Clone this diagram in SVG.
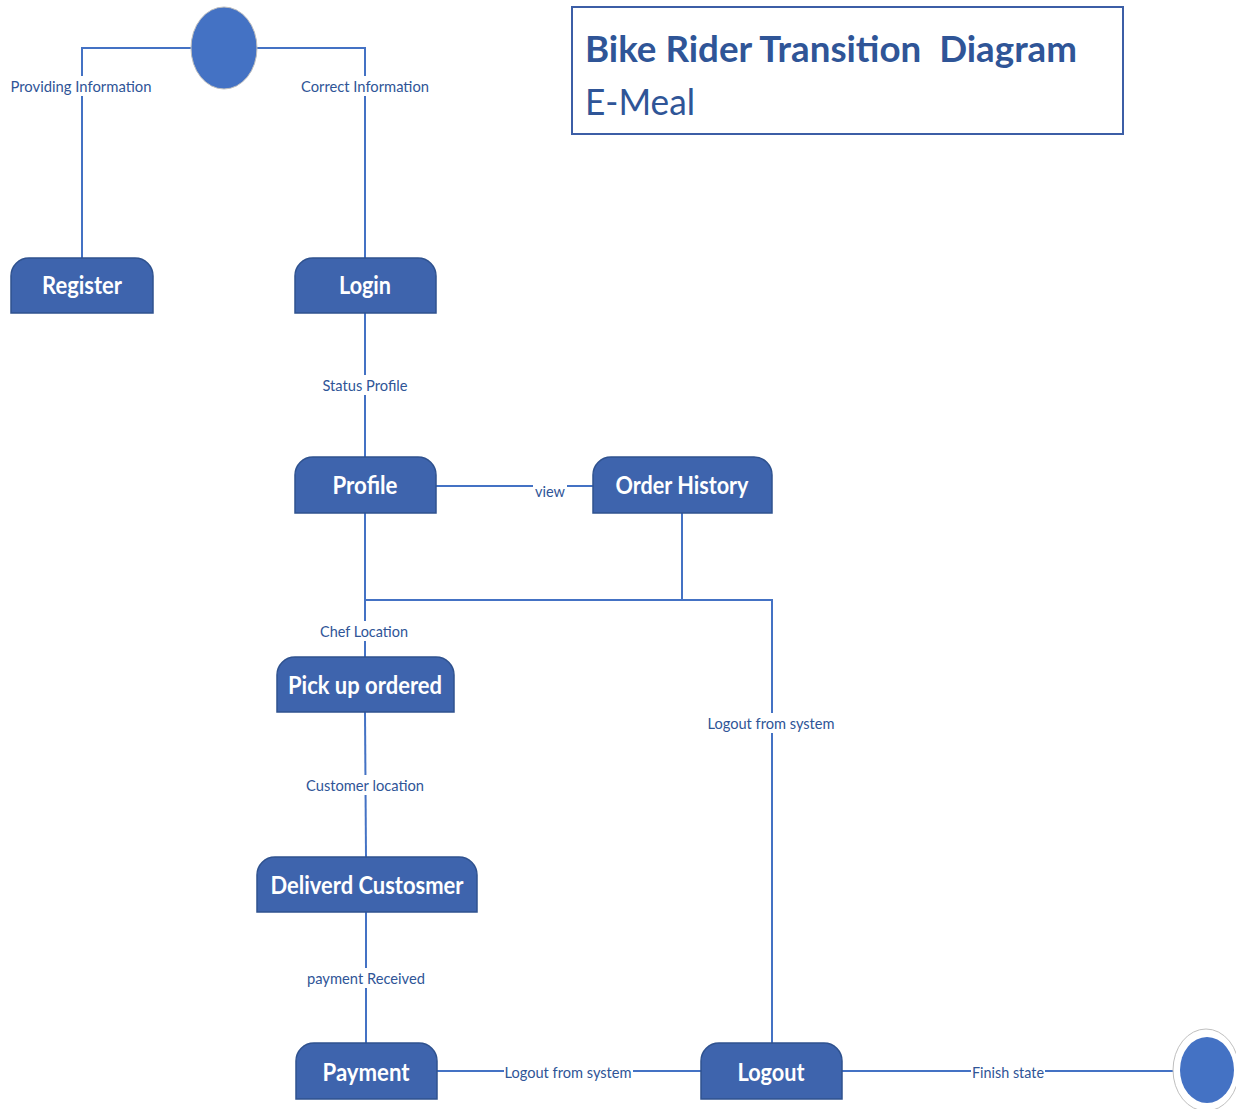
<svg xmlns="http://www.w3.org/2000/svg" width="1236" height="1109" viewBox="0 0 1236 1109">
  <style>
    .wire { fill: none; stroke: #4472c4; stroke-width: 2; }
    .gap { fill: #ffffff; }
    .lbl { font-family: Lato, "Liberation Sans", sans-serif; font-size: 15px; fill: #2f5597; text-anchor: middle; }
    .state { fill: #3e64ad; stroke: #2f528f; stroke-width: 1.5; }
    .name { font-family: Lato, "Liberation Sans", sans-serif; font-weight: bold; font-size: 25px; fill: #ffffff; text-anchor: middle; }
    .dot { fill: #4472c4; stroke: #bfbfbf; stroke-width: 1; }
  </style>

  <!-- title box -->
  <g id="title">
    <rect x="572" y="7" width="551" height="127" fill="#ffffff" stroke="#3c5ea6" stroke-width="2"/>
    <text x="585" y="62" font-family="Lato, 'Liberation Sans', sans-serif" font-weight="bold" font-size="37" fill="#2f5597" textLength="492" lengthAdjust="spacingAndGlyphs">Bike Rider Transition&#160; Diagram</text>
    <text x="585" y="115" font-family="Lato, 'Liberation Sans', sans-serif" font-size="37" fill="#2f5597" textLength="110" lengthAdjust="spacingAndGlyphs">E-Meal</text>
  </g>

  <!-- transitions -->
  <g id="connectors">
    <polyline class="wire" points="191,48 82,48 82,258"/>
    <polyline class="wire" points="257,48 365,48 365,258"/>
    <line class="wire" x1="365" y1="313" x2="365" y2="457"/>
    <line class="wire" x1="436" y1="486" x2="593" y2="486"/>
    <line class="wire" x1="365" y1="513" x2="365" y2="657"/>
    <line class="wire" x1="682" y1="513" x2="682" y2="600"/>
    <polyline class="wire" points="365,600 772,600 772,1043"/>
    <line class="wire" x1="365" y1="712" x2="366" y2="857"/>
    <line class="wire" x1="366" y1="912" x2="366" y2="1043"/>
    <line class="wire" x1="437" y1="1071" x2="701" y2="1071"/>
    <line class="wire" x1="842" y1="1071" x2="1180" y2="1071"/>

    <!-- blank breaks in the lines behind each label -->
    <rect class="gap" x="9" y="76" width="145" height="20"/>
    <rect class="gap" x="299" y="76" width="132" height="20"/>
    <rect class="gap" x="320" y="375" width="89" height="20"/>
    <rect class="gap" x="533" y="480" width="34" height="20"/>
    <rect class="gap" x="318" y="621" width="92" height="20"/>
    <rect class="gap" x="706" y="713" width="131" height="20"/>
    <rect class="gap" x="304" y="775" width="122" height="20"/>
    <rect class="gap" x="305" y="968" width="122" height="20"/>
    <rect class="gap" x="504" y="1062" width="129" height="20"/>
    <rect class="gap" x="971" y="1062" width="74" height="20"/>

    <text class="lbl" x="81" y="92" textLength="141" lengthAdjust="spacingAndGlyphs">Providing Information</text>
    <text class="lbl" x="365" y="92" textLength="128" lengthAdjust="spacingAndGlyphs">Correct Information</text>
    <text class="lbl" x="365" y="391" textLength="85" lengthAdjust="spacingAndGlyphs">Status Profile</text>
    <text class="lbl" x="550" y="497" textLength="30" lengthAdjust="spacingAndGlyphs">view</text>
    <text class="lbl" x="364" y="637" textLength="88" lengthAdjust="spacingAndGlyphs">Chef Location</text>
    <text class="lbl" x="771" y="729" textLength="127" lengthAdjust="spacingAndGlyphs">Logout from system</text>
    <text class="lbl" x="365" y="791" textLength="118" lengthAdjust="spacingAndGlyphs">Customer location</text>
    <text class="lbl" x="366" y="984" textLength="118" lengthAdjust="spacingAndGlyphs">payment Received</text>
    <text class="lbl" x="568" y="1078" textLength="127" lengthAdjust="spacingAndGlyphs">Logout from system</text>
    <text class="lbl" x="1008" y="1078" textLength="72" lengthAdjust="spacingAndGlyphs">Finish state</text>
  </g>

  <!-- initial state -->
  <g id="start">
    <ellipse class="dot" cx="224" cy="48" rx="33" ry="41"/>
  </g>

  <!-- final state -->
  <g id="finish">
    <ellipse cx="1206" cy="1070" rx="33" ry="41" fill="#ffffff" stroke="#bfbfbf" stroke-width="1"/>
    <ellipse cx="1207" cy="1070" rx="27" ry="33" fill="#4472c4"/>
  </g>

  <g id="register">
    <path class="state" d="M11 313 V276 A18 18 0 0 1 29 258 H135 A18 18 0 0 1 153 276 V313 Z"/>
    <text class="name" x="82" y="294" textLength="80" lengthAdjust="spacingAndGlyphs">Register</text>
  </g>

  <g id="login">
    <path class="state" d="M295 313 V276 A18 18 0 0 1 313 258 H418 A18 18 0 0 1 436 276 V313 Z"/>
    <text class="name" x="365" y="294" textLength="52" lengthAdjust="spacingAndGlyphs">Login</text>
  </g>

  <g id="profile">
    <path class="state" d="M295 513 V475 A18 18 0 0 1 313 457 H418 A18 18 0 0 1 436 475 V513 Z"/>
    <text class="name" x="365" y="494" textLength="65" lengthAdjust="spacingAndGlyphs">Profile</text>
  </g>

  <g id="order-history">
    <path class="state" d="M593 513 V475 A18 18 0 0 1 611 457 H754 A18 18 0 0 1 772 475 V513 Z"/>
    <text class="name" x="682" y="494" textLength="133" lengthAdjust="spacingAndGlyphs">Order History</text>
  </g>

  <g id="pick-up">
    <path class="state" d="M277 712 V675 A18 18 0 0 1 295 657 H436 A18 18 0 0 1 454 675 V712 Z"/>
    <text class="name" x="365" y="694" textLength="154" lengthAdjust="spacingAndGlyphs">Pick up ordered</text>
  </g>

  <g id="delivered">
    <path class="state" d="M257 912 V875 A18 18 0 0 1 275 857 H459 A18 18 0 0 1 477 875 V912 Z"/>
    <text class="name" x="367" y="894" textLength="193" lengthAdjust="spacingAndGlyphs">Deliverd Custosmer</text>
  </g>

  <g id="payment">
    <path class="state" d="M296 1099 V1061 A18 18 0 0 1 314 1043 H419 A18 18 0 0 1 437 1061 V1099 Z"/>
    <text class="name" x="366" y="1081" textLength="87" lengthAdjust="spacingAndGlyphs">Payment</text>
  </g>

  <g id="logout">
    <path class="state" d="M701 1099 V1061 A18 18 0 0 1 719 1043 H824 A18 18 0 0 1 842 1061 V1099 Z"/>
    <text class="name" x="771" y="1081" textLength="67" lengthAdjust="spacingAndGlyphs">Logout</text>
  </g>
</svg>
